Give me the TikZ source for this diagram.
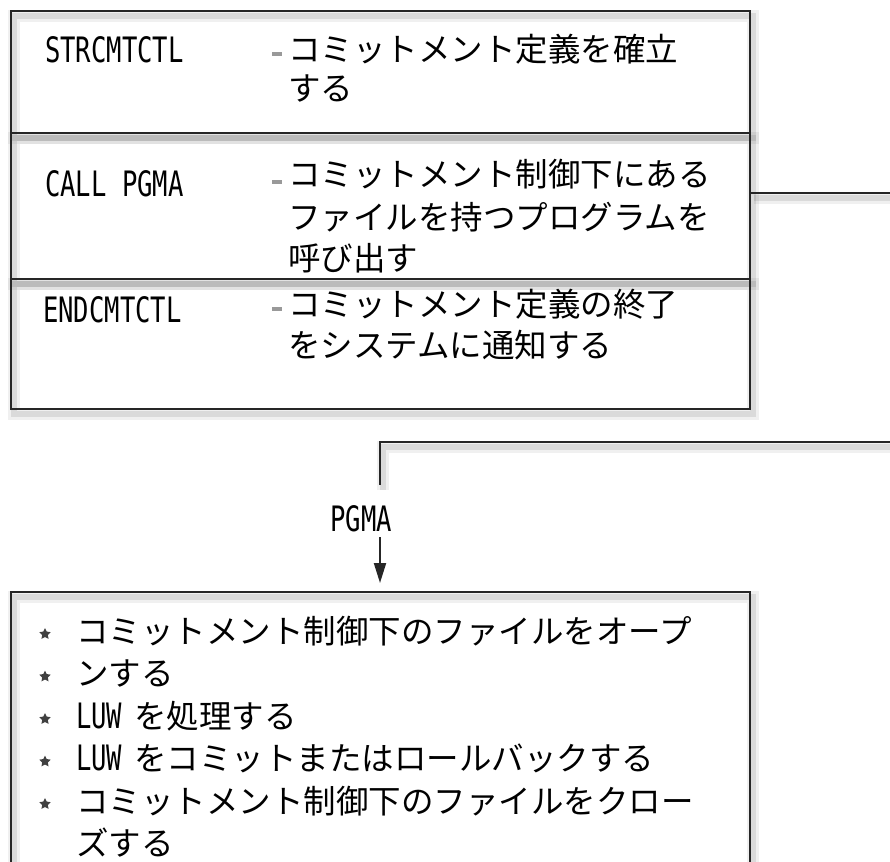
\documentclass[tikz,border=0pt]{standalone}
\usepackage{fontspec}
\newfontfamily\jp{Noto Sans CJK JP}
\newfontfamily\asc[FakeStretch=0.73]{DejaVu Sans Mono}
\newcommand\myasc[1]{{\asc\fontsize{35}{40}\selectfont #1}}
\usetikzlibrary{shapes.geometric,arrows.meta,calc}
\tikzset{
  shadowed/.style={
    preaction={draw=black, opacity=0.06, line width=12pt, transform canvas={shift={(3pt,-5pt)}}},
    preaction={draw=black, opacity=0.09, line width=6pt, transform canvas={shift={(3pt,-5pt)}}}},
  boxline/.style={draw=black!85, line width=1.6pt},
  cell/.style={boxline, shadowed, rectangle, inner sep=0pt, minimum width=739pt, anchor=north west},
  conn/.style={boxline, shadowed},
  jptext/.style={font=\jp\fontsize{32.5}{42}\selectfont, inner sep=0pt, anchor=base west},
  cmd/.style={font=\asc\fontsize{35}{40}\selectfont, inner sep=0pt, anchor=base west},
  dashmark/.style={rectangle, fill=black!40, inner sep=0pt, minimum width=10pt, minimum height=4pt},
  bulletmark/.style={star, star points=5, star point ratio=2.0, fill=black!75, inner sep=0pt, minimum size=12pt}
}
\begin{document}
\begin{tikzpicture}[x=1pt,y=-1pt]
\useasboundingbox (0,0) rectangle (890,861);
% top box rows
\node[cell, minimum height=122pt] (row1) at (10,10) {};
\node[cell, minimum height=146pt] (row2) at (10,132) {};
\node[cell, minimum height=130pt] (row3) at (10,278) {};
% row 1
\node[cmd] (c1) at (45,63) {STRCMTCTL};
\node[dashmark] (d1) at (277,54) {};
\node[jptext] (t1a) at (288,62) {コミットメント定義を確立};
\node[jptext] (t1b) at (288,101) {する};
% row 2
\node[cmd] (c2) at (45,196) {CALL PGMA};
\node[dashmark] (d2) at (277,182) {};
\node[jptext] (t2a) at (288,186) {コミットメント制御下にある};
\node[jptext] (t2b) at (288,229) {ファイルを持つプログラムを};
\node[jptext] (t2c) at (288,270) {呼び出す};
% row 3
\node[cmd] (c3) at (43,322) {ENDCMTCTL};
\node[dashmark] (d3) at (277,309) {};
\node[jptext] (t3a) at (288,316) {コミットメント定義の終了};
\node[jptext] (t3b) at (288,357) {をシステムに通知する};
% connectors
\coordinate (e1) at (890,193);
\draw[conn] (row2.east |- e1) -- (e1);
\coordinate (e2) at (890,442);
\coordinate (bend) at (380,442);
\coordinate (l1) at (380,485);
\draw[conn] (e2) -- (bend) -- (l1);
\node[cmd, anchor=base] (pgma) at (361,531) {PGMA};
\coordinate (a0) at (380,537);
% bottom box
\node[cell, minimum height=320pt] (bottom) at (10,591) {};
\draw[boxline, line width=2pt, shorten >=8pt, -{Triangle[length=20pt,width=12pt]}] (a0) -- (bottom.north -| a0);
% bullets
\node[bulletmark] (s1) at (45,634) {};
\node[bulletmark] (s2) at (45,676.5) {};
\node[bulletmark] (s3) at (45,719) {};
\node[bulletmark] (s4) at (45,761.5) {};
\node[bulletmark] (s5) at (45,804) {};
\node[jptext] (b1) at (76,643) {コミットメント制御下のファイルをオープ};
\node[jptext] (b2) at (76,685.5) {ンする};
\node[jptext] (b3) at (76,728) {\myasc{LUW}\hspace{12pt}を処理する};
\node[jptext] (b4) at (76,770.5) {\myasc{LUW}\hspace{12pt}をコミットまたはロールバックする};
\node[jptext] (b5) at (76,813) {コミットメント制御下のファイルをクロー};
\node[jptext] (b6) at (76,855.5) {ズする};
\end{tikzpicture}
\end{document}
